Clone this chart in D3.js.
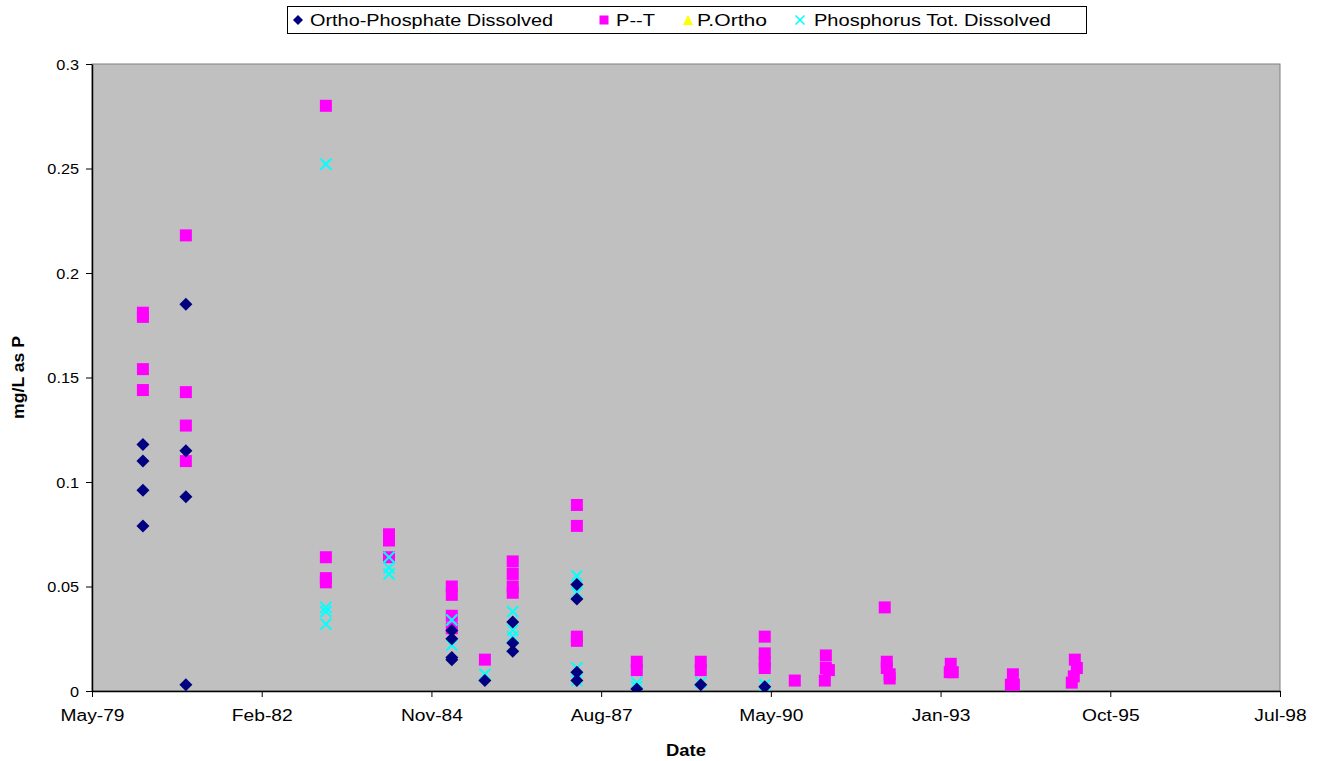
<!DOCTYPE html>
<html>
<head>
<meta charset="utf-8">
<script src="https://cdn.jsdelivr.net/npm/d3@7"></script>
<style>
  body { margin: 0; background: #fff; }
  svg { font-family: "Liberation Sans", Arial, sans-serif; }
  .x-axis .tick text { font-size: 16px; fill: #000; }
  .y-axis .tick text { font-size: 15.5px; fill: #000; }
  .unit { font-size: 16px; font-weight: bold; }
  .legend-texts { font-size: 17px; }
</style>
</head>
<body>
<div id="svg-container"></div>
<script>
////////////////////////////  Data  ////////////////////////////////
const seriesNames = ["Ortho-Phosphate Dissolved", "P--T", "P.Ortho", "Phosphorus Tot. Dissolved"];

const orthoDissolved = [
  ["1980-03-20", 0.118], ["1980-03-20", 0.110], ["1980-03-20", 0.096], ["1980-03-20", 0.079],
  ["1980-11-28", 0.185], ["1980-11-28", 0.115], ["1980-11-28", 0.093], ["1980-11-28", 0.003],
  ["1985-03-14", 0.029], ["1985-03-14", 0.025], ["1985-03-14", 0.016], ["1985-03-14", 0.015],
  ["1985-09-25", 0.005],
  ["1986-03-08", 0.033], ["1986-03-08", 0.023], ["1986-03-08", 0.019],
  ["1987-03-21", 0.051], ["1987-03-21", 0.044], ["1987-03-21", 0.009], ["1987-03-21", 0.005],
  ["1988-03-08", 0.001],
  ["1989-03-20", 0.003],
  ["1990-04-01", 0.002]
];

const pTotal = [
  ["1980-03-20", 0.181], ["1980-03-20", 0.179], ["1980-03-20", 0.154], ["1980-03-20", 0.144],
  ["1980-11-28", 0.218], ["1980-11-28", 0.143], ["1980-11-28", 0.127], ["1980-11-28", 0.110],
  ["1983-03-03", 0.280], ["1983-03-03", 0.064], ["1983-03-03", 0.054], ["1983-03-03", 0.052],
  ["1984-03-09", 0.075], ["1984-03-09", 0.072], ["1984-03-09", 0.064],
  ["1985-03-14", 0.050], ["1985-03-14", 0.046], ["1985-03-14", 0.036], ["1985-03-14", 0.030],
  ["1985-09-25", 0.015],
  ["1986-03-08", 0.062], ["1986-03-08", 0.056], ["1986-03-08", 0.050], ["1986-03-08", 0.047],
  ["1987-03-21", 0.089], ["1987-03-21", 0.079], ["1987-03-21", 0.026], ["1987-03-21", 0.024],
  ["1988-03-08", 0.014], ["1988-03-08", 0.010],
  ["1989-03-20", 0.014], ["1989-03-20", 0.010],
  ["1990-04-01", 0.026], ["1990-04-01", 0.018], ["1990-04-01", 0.014], ["1990-04-01", 0.011],
  ["1990-09-25", 0.005],
  ["1991-03-27", 0.017], ["1991-03-27", 0.011], ["1991-04-14", 0.010], ["1991-03-21", 0.005],
  ["1992-03-08", 0.040], ["1992-03-20", 0.014], ["1992-03-20", 0.011], ["1992-04-06", 0.008], ["1992-04-06", 0.006],
  ["1993-04-01", 0.013], ["1993-03-26", 0.009], ["1993-04-13", 0.009],
  ["1994-04-02", 0.008], ["1994-03-21", 0.003], ["1994-04-08", 0.003],
  ["1995-04-02", 0.015], ["1995-04-14", 0.011], ["1995-03-27", 0.007], ["1995-03-15", 0.004]
];

const pOrtho = [];

const phosTotDissolved = [
  ["1983-03-03", 0.252], ["1983-03-03", 0.040], ["1983-03-03", 0.038], ["1983-03-03", 0.032],
  ["1984-03-09", 0.064], ["1984-03-09", 0.059], ["1984-03-09", 0.056],
  ["1985-03-14", 0.034], ["1985-03-14", 0.022],
  ["1985-09-25", 0.008],
  ["1986-03-08", 0.038], ["1986-03-08", 0.029], ["1986-03-08", 0.026], ["1986-03-08", 0.021],
  ["1987-03-21", 0.055], ["1987-03-21", 0.047], ["1987-03-21", 0.011], ["1987-03-21", 0.005],
  ["1988-03-08", 0.004], ["1988-03-08", 0.002],
  ["1989-03-20", 0.004],
  ["1990-04-01", 0.003]
];

// excel date axis: every 1000 days from serial 29000
const xTickSerials = [29000, 30000, 31000, 32000, 33000, 34000, 35000, 36000];
const yTicks = [0, 0.05, 0.1, 0.15, 0.2, 0.25, 0.3];

////////////////////////////  Init  ///////////////////////////////
const width = 1323;
const height = 761;
const margin = { top: 64, right: 43, bottom: 70, left: 92 };

const serialToDate = (s) => new Date(Date.UTC(1899, 11, 30) + s * 86400000);
const parseDate = (s) => new Date(s + "T00:00:00Z");
const formatX = d3.utcFormat("%b-%y");

// widen text a bit, the old chart renders its font stretched
const stretch = (sel, k) =>
  sel.each(function () {
    const w = this.getComputedTextLength();
    d3.select(this).attr("textLength", w * k).attr("lengthAdjust", "spacingAndGlyphs");
  });

const svg = d3.select("#svg-container").append("svg")
  .attr("width", width).attr("height", height);

const xScale = d3.scaleUtc()
  .domain([serialToDate(xTickSerials[0]), serialToDate(xTickSerials[xTickSerials.length - 1])])
  .range([margin.left, width - margin.right]);
const yScale = d3.scaleLinear().domain([0, 0.3]).range([height - margin.bottom, margin.top]);

// plot area
svg.append("rect")
  .attr("x", margin.left).attr("y", margin.top)
  .attr("width", width - margin.left - margin.right)
  .attr("height", height - margin.top - margin.bottom)
  .attr("fill", "#c0c0c0").attr("stroke", "#808080").attr("stroke-width", 1);

svg.append("clipPath").attr("id", "plot-clip").append("rect")
  .attr("x", margin.left).attr("y", margin.top - 10)
  .attr("width", width - margin.left - margin.right + 10)
  .attr("height", height - margin.top - margin.bottom + 10);

// axes
const xAxis = d3.axisBottom(xScale)
  .tickValues(xTickSerials.map(serialToDate))
  .tickFormat(formatX).tickSize(6).tickSizeOuter(0).tickPadding(10);
const yAxis = d3.axisLeft(yScale)
  .tickValues(yTicks).tickFormat(d3.format("~g")).tickSize(6).tickSizeOuter(0).tickPadding(7);

const gx = svg.append("g").attr("class", "x-axis")
  .attr("transform", `translate(0, ${height - margin.bottom})`).call(xAxis);
const gy = svg.append("g").attr("class", "y-axis")
  .attr("transform", `translate(${margin.left}, 0)`).call(yAxis);
gx.select(".domain").attr("stroke", "#000").attr("stroke-width", 1.5);
gy.select(".domain").attr("stroke", "#000").attr("stroke-width", 1.5);
gx.selectAll(".tick line").attr("stroke", "#000");
gy.selectAll(".tick line").attr("stroke", "#000");
gx.selectAll(".tick text").attr("dy", "0.9em").call(stretch, 1.2);
gy.selectAll(".tick text").attr("dy", "0.35em").call(stretch, 1.05);

// units
svg.append("text").attr("class", "unit")
  .attr("x", (margin.left + width - margin.right) / 2).attr("y", height - 5)
  .attr("text-anchor", "middle").text("Date").call(stretch, 1.15);
svg.append("text").attr("class", "unit")
  .attr("transform", `translate(24, ${(margin.top + height - margin.bottom) / 2}) rotate(-90)`)
  .attr("text-anchor", "middle").text("mg/L as P").call(stretch, 1.1);

////////////////////////////  Marks  //////////////////////////////
const marks = svg.append("g").attr("clip-path", "url(#plot-clip)");
const px = (d) => xScale(parseDate(d[0]));
const py = (d) => yScale(d[1]);

const diamondPath = (r) => `M0,${-r}L${r},0L0,${r}L${-r},0Z`;
const crossPath = (r) => `M${-r},${-r}L${r},${r}M${-r},${r}L${r},${-r}`;
const trianglePath = (r) => `M0,${-r}L${r},${r}L${-r},${r}Z`;

marks.selectAll(".pt").data(pTotal).enter().append("rect")
  .attr("x", (d) => px(d) - 6).attr("y", (d) => py(d) - 6)
  .attr("width", 12).attr("height", 12).attr("fill", "#ff00ff");

marks.selectAll(".po").data(pOrtho).enter().append("path")
  .attr("transform", (d) => `translate(${px(d)},${py(d)})`)
  .attr("d", trianglePath(5)).attr("fill", "#ffff00");

marks.selectAll(".ptd").data(phosTotDissolved).enter().append("path")
  .attr("transform", (d) => `translate(${px(d)},${py(d)})`)
  .attr("d", crossPath(5.5)).attr("stroke", "#00ffff").attr("stroke-width", 2).attr("fill", "none");

marks.selectAll(".od").data(orthoDissolved).enter().append("path")
  .attr("transform", (d) => `translate(${px(d)},${py(d)})`)
  .attr("d", diamondPath(6.5)).attr("fill", "#000080");

////////////////////////////  Legend  /////////////////////////////
const legend = svg.append("g");
legend.append("rect")
  .attr("x", 287.5).attr("y", 6.5).attr("width", 799).attr("height", 27)
  .attr("fill", "#fff").attr("stroke", "#000");

const legendX = [298, 604, 688, 800];
const legendTextX = [310, 616, 697, 814];
const legendTextW = [243, 39, 70, 237];
const legendY = 20;
const legendMarks = [
  (g) => g.append("path").attr("d", diamondPath(5)).attr("fill", "#000080"),
  (g) => g.append("rect").attr("x", -4.5).attr("y", -4.5).attr("width", 9).attr("height", 9).attr("fill", "#ff00ff"),
  (g) => g.append("path").attr("d", trianglePath(5)).attr("fill", "#ffff00"),
  (g) => g.append("path").attr("d", crossPath(4.5)).attr("stroke", "#00ffff").attr("stroke-width", 1.5)
];
seriesNames.forEach((name, i) => {
  const g = legend.append("g").attr("transform", `translate(${legendX[i]}, ${legendY})`);
  legendMarks[i](g);
  legend.append("text").attr("class", "legend-texts")
    .attr("x", legendTextX[i]).attr("y", legendY).attr("dy", "0.36em")
    .attr("textLength", legendTextW[i]).attr("lengthAdjust", "spacingAndGlyphs")
    .text(name);
});
</script>
</body>
</html>
